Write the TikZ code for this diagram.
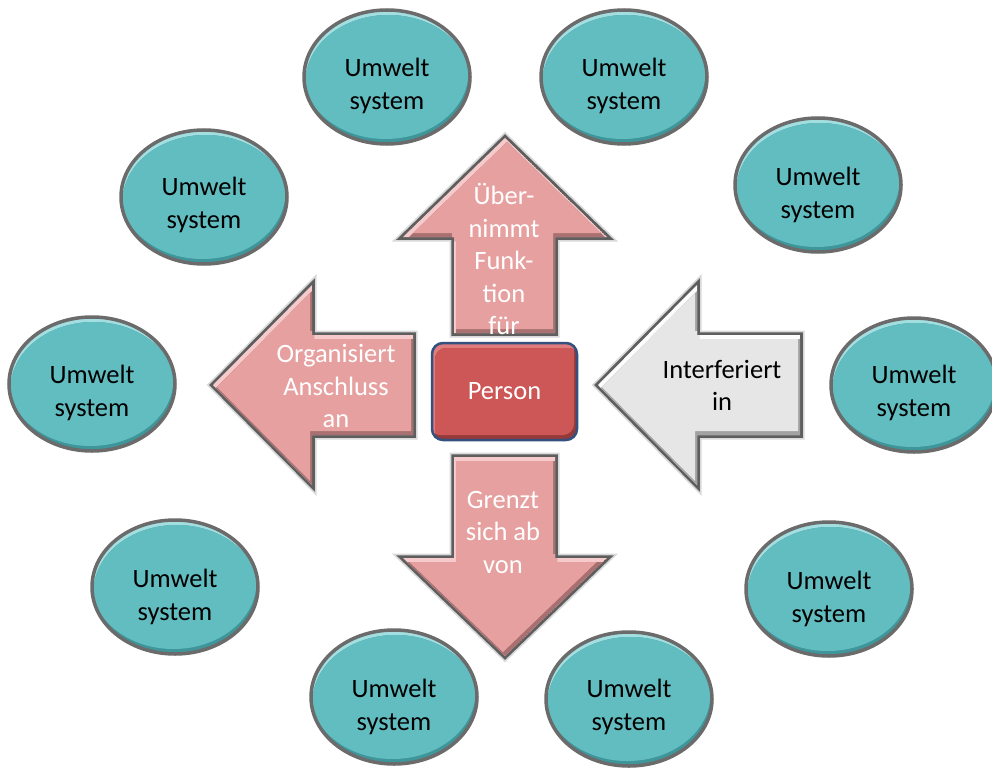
\documentclass[tikz,border=0pt]{standalone}
\usepackage{fontspec}
\setmainfont{Carlito}
\usetikzlibrary{shapes.geometric}

\definecolor{tealmain}{HTML}{62BDC1}
\definecolor{teallight}{HTML}{A3DEE0}
\definecolor{tealdark}{HTML}{3E959A}
\definecolor{rimgray}{HTML}{6B6B6B}
\definecolor{arrowgray}{HTML}{5E5E5E}
\definecolor{pinkmain}{HTML}{E6A0A0}
\definecolor{pinklight}{HTML}{F6CACA}
\definecolor{pinkdark}{HTML}{A87070}
\definecolor{greymain}{HTML}{E6E6E6}
\definecolor{greylight}{HTML}{FCFCFC}
\definecolor{greydark}{HTML}{A2A2A2}
\definecolor{personmain}{HTML}{CD5656}
\definecolor{personlight}{HTML}{E07C7C}
\definecolor{persondark}{HTML}{943A3A}
\definecolor{personrim}{HTML}{33507F}

\newcommand\txtfont{\fontsize{26.5}{32.5}\selectfont}

% bevelled fill of a closed path: light band upper left, dark band lower right
\newcommand\bevelfill[6]{%
  \begin{scope}
    \clip #1;
    \fill[#2] #1;
    \fill[#3, shift={(#5,#6)}] #1;
    \clip[shift={(#5,#6)}] #1;
    \fill[#4, shift={(-#5,-#6)}] #1;
  \end{scope}}

% block arrows and the central box
\newcommand\pathUp{(454,333) -- (454,237) -- (403,237) -- (505,138) -- (607,237) -- (555,237) -- (555,333) -- cycle}
\newcommand\pathDown{(454,457) -- (555,457) -- (555,558) -- (607,558) -- (505,656) -- (403,558) -- (454,558) -- cycle}
\newcommand\pathLeft{(413,335) -- (312,335) -- (312,285) -- (213,385) -- (312,485) -- (312,435) -- (413,435) -- cycle}
\newcommand\pathIn{(800,335) -- (697,335) -- (697,285) -- (598,385) -- (697,485) -- (697,435) -- (800,435) -- cycle}
\newcommand\pathPerson{[rounded corners=11] (432,343) rectangle (577,440)}

\tikzset{
  umwelt/.style={ellipse, minimum width=166, minimum height=134, inner sep=0,
    draw=rimgray, line width=3.5,
    path picture={
      \begin{scope}[shift={(path picture bounding box.center)}]
        \fill[teallight] (0,0) ellipse [x radius=90, y radius=75];
        \fill[tealdark] (1.5,5) ellipse [x radius=83, y radius=67];
        \clip (1.5,5) ellipse [x radius=83, y radius=67];
        \fill[tealmain] (-1.5,-5) ellipse [x radius=83, y radius=67];
      \end{scope}}},
  utext/.style={font=\txtfont, align=center, inner sep=0, text=black},
  wtext/.style={font=\txtfont, align=center, inner sep=0, text=white},
  person/.style={rectangle, rounded corners=11, minimum width=145, minimum height=97,
    inner sep=0, draw=personrim, line width=2.5, text=white, font=\txtfont},
  arrowshadow/.style={black, opacity=0.15, line width=9},
  arrowrim/.style={arrowgray, line width=5.5},
}

\begin{document}
\begin{tikzpicture}[x=1pt, y=-1pt]
  \useasboundingbox[fill=white] (0,0) rectangle (992,773);

  % surrounding environment systems
  \node[umwelt] (u1) at (387,77) {};
  \node[umwelt] (u2) at (624,77) {};
  \node[umwelt] (u3) at (204,197) {};
  \node[umwelt] (u4) at (818,185) {};
  \node[umwelt] (u5) at (92,384) {};
  \node[umwelt] (u6) at (914,385) {};
  \node[umwelt] (u7) at (175,587) {};
  \node[umwelt] (u8) at (829,589) {};
  \node[umwelt] (u9) at (394,697) {};
  \node[umwelt] (u10) at (629,699) {};

  \node[utext] (u1t) at (387,86) {Umwelt\\system};
  \node[utext] (u2t) at (624,86) {Umwelt\\system};
  \node[utext] (u3t) at (204,205) {Umwelt\\system};
  \node[utext] (u4t) at (818,195) {Umwelt\\system};
  \node[utext] (u5t) at (92,393) {Umwelt\\system};
  \node[utext] (u6t) at (914,393) {Umwelt\\system};
  \node[utext] (u7t) at (175,597) {Umwelt\\system};
  \node[utext] (u8t) at (829,599) {Umwelt\\system};
  \node[utext] (u9t) at (394,707) {Umwelt\\system};
  \node[utext] (u10t) at (629,707) {Umwelt\\system};

  % block arrows around the person
  \foreach \p in {\pathUp, \pathDown, \pathLeft, \pathIn} {
    \draw[arrowshadow] \p;
    \draw[arrowrim] \p;
  }
  \bevelfill{\pathUp}{pinklight}{pinkdark}{pinkmain}{2}{4}
  \bevelfill{\pathDown}{pinklight}{pinkdark}{pinkmain}{2}{4}
  \bevelfill{\pathLeft}{pinklight}{pinkdark}{pinkmain}{2}{4}
  \bevelfill{\pathIn}{greylight}{greydark}{greymain}{2}{4}

  \node[wtext] (tup) at (504,259) {Über-\\nimmt\\Funk-\\tion\\für};
  \node[wtext] (tleft) at (336,386) {Organisiert\\Anschluss\\an};
  \node[utext] (tin) at (722,385.5) {Interferiert\\in};
  \node[wtext] (tdown) at (503,532) {Grenzt\\sich ab\\von};

  % central person
  \bevelfill{\pathPerson}{personlight}{persondark}{personmain}{3}{5}
  \node[person] (person) at (504.5,391.5) {Person};
\end{tikzpicture}
\end{document}
